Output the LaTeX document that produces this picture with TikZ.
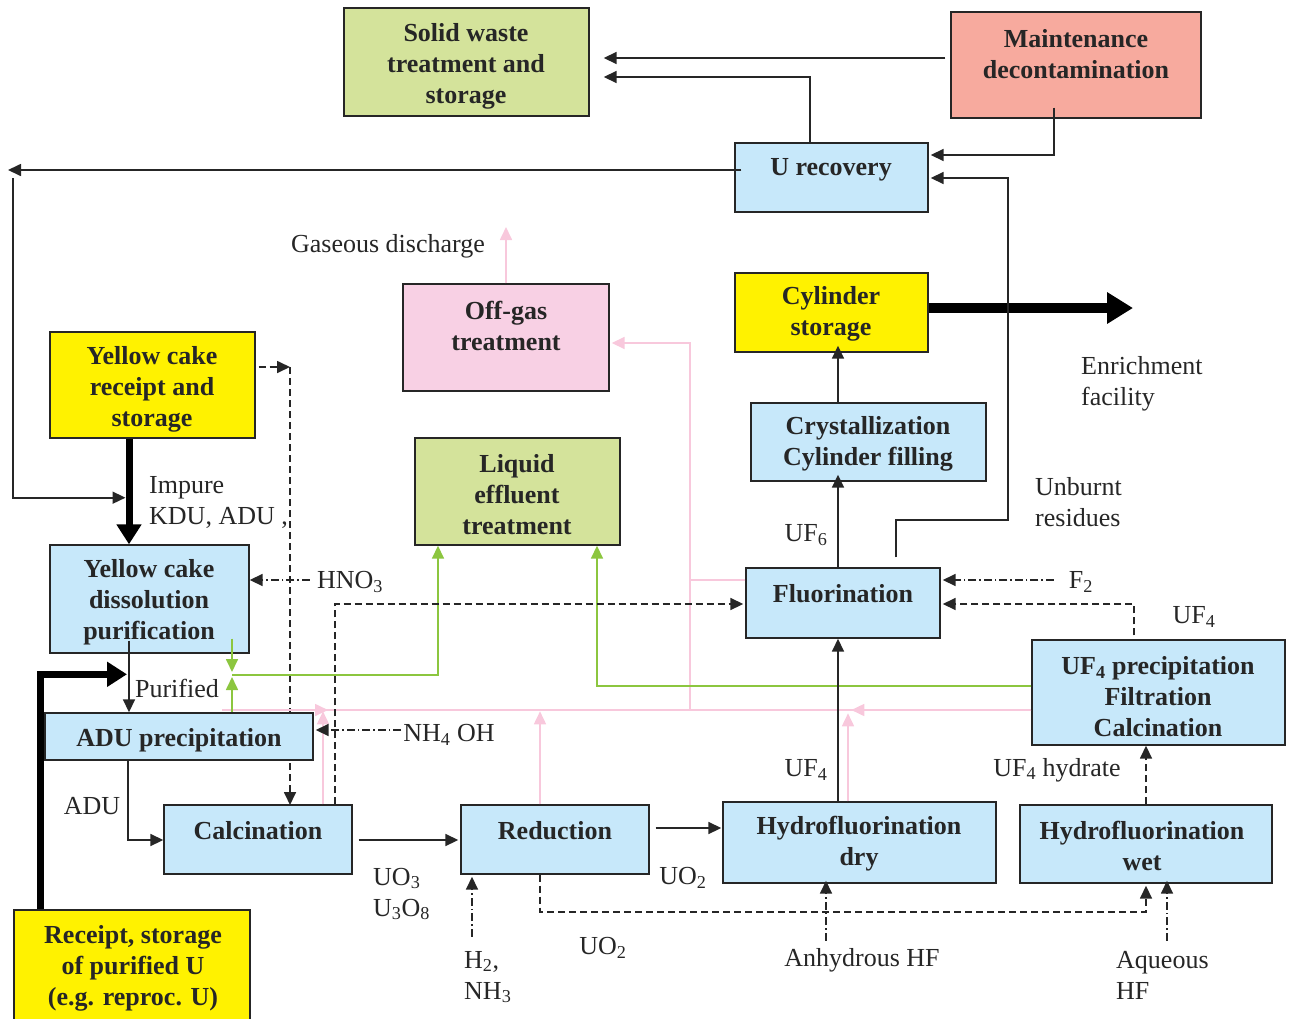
\documentclass[tikz,border=0pt]{standalone}
\usepackage{fontspec}
\setmainfont{Liberation Serif}
\usetikzlibrary{arrows.meta,calc}
\definecolor{cblue}{RGB}{199,232,250}
\definecolor{cyel}{RGB}{255,242,0}
\definecolor{cgreen}{RGB}{212,227,155}
\definecolor{csalmon}{RGB}{247,170,158}
\definecolor{cpink}{RGB}{248,208,228}
\definecolor{lpink}{RGB}{248,200,220}
\definecolor{lgreen}{RGB}{140,198,63}
\definecolor{cline}{RGB}{38,38,38}
\begin{document}
\begin{tikzpicture}[x=1pt,y=-1pt,
  box/.style={draw=cline, line width=1.4pt, inner sep=0pt, minimum width=#1},
  btxt/.style={font=\bfseries\fontsize{26}{31}\selectfont, align=center, text=cline, inner sep=0pt},
  lbl/.style={font=\fontsize{26}{31}\selectfont, text=cline, inner sep=1pt},
  arr/.style={draw=cline, line width=1.7pt, -{Triangle[length=13pt,width=12pt]}},
  arrd/.style={arr, dash pattern=on 7pt off 4pt},
  arrdd/.style={arr, dash pattern=on 8pt off 3pt on 1.5pt off 3pt},
  thickarr/.style={draw=black, line width=7pt, -{Triangle[length=20pt,width=24pt]}},
  pk/.style={draw=lpink, line width=1.7pt},
  pkarr/.style={pk, -{Triangle[length=13pt,width=12pt,fill=lpink]}},
  gr/.style={draw=lgreen, line width=1.7pt},
  grarr/.style={gr, -{Triangle[length=13pt,width=12pt,fill=lgreen]}}
]
\useasboundingbox (0,0) rectangle (1293,1018);

% coordinates used by connectors
\coordinate (c290) at (290,367);
\coordinate (lefttip) at (8,170);
\coordinate (leftdown) at (13,178);
\coordinate (urbend) at (1008,520);
\coordinate (enrtip) at (1133,308);
\coordinate (gj) at (232,675);
\coordinate (gasend) at (506,227);
\coordinate (pkcorner) at (690,580);
\coordinate (pkleft) at (222,710);

% lines behind the boxes
\draw[arrd] (c290) -- (290,805);

% boxes
\node[box=245pt, minimum height=108pt, fill=cgreen] (solid) at (466.5,62) {};
\node[box=250pt, minimum height=106pt, fill=csalmon] (maint) at (1076,65) {};
\node[box=193pt, minimum height=69pt, fill=cblue] (urec) at (831.5,177.5) {};
\node[box=206pt, minimum height=107pt, fill=cpink] (offgas) at (506,337.5) {};
\node[box=193pt, minimum height=79pt, fill=cyel] (cylst) at (831.5,312.5) {};
\node[box=205pt, minimum height=106pt, fill=cyel] (ycr) at (152.5,385) {};
\node[box=205pt, minimum height=107pt, fill=cgreen] (liq) at (517.5,491.5) {};
\node[box=235pt, minimum height=78pt, fill=cblue] (cryst) at (868.5,442) {};
\node[box=199pt, minimum height=108pt, fill=cblue] (diss) at (149.5,599) {};
\node[box=194pt, minimum height=70pt, fill=cblue] (fluor) at (843,603) {};
\node[box=253pt, minimum height=105pt, fill=cblue] (uf4p) at (1158.5,692.5) {};
\node[box=268pt, minimum height=47pt, fill=cblue] (adu) at (179,736.5) {};
\node[box=188pt, minimum height=69pt, fill=cblue] (calc) at (258,839.5) {};
\node[box=188pt, minimum height=69pt, fill=cblue] (red) at (555,839.5) {};
\node[box=273pt, minimum height=81pt, fill=cblue] (hdry) at (859.5,842.5) {};
\node[box=252pt, minimum height=78pt, fill=cblue] (hwet) at (1146,844) {};
\node[box=236pt, minimum height=114pt, fill=cyel] (rpu) at (132,967) {};

% box texts
\node[btxt] (solidt) at (466,66) {Solid waste\\treatment and\\storage};
\node[btxt] (maintt) at (1076,54) {Maintenance\\decontamination};
\node[btxt] (urect) at (831,170) {U recovery};
\node[btxt] (offgast) at (506,326) {Off-gas\\treatment};
\node[btxt] (cylstt) at (831,314) {Cylinder\\storage};
\node[btxt] (ycrt) at (152,389) {Yellow cake\\receipt and\\storage};
\node[btxt] (liqt) at (517,495) {Liquid\\effluent\\treatment};
\node[btxt] (crystt) at (868,444) {Crystallization\\Cylinder filling};
\node[btxt] (disst) at (149,602) {Yellow cake\\dissolution\\purification};
\node[btxt] (fluort) at (843,594) {Fluorination};
\node[btxt] (uf4pt) at (1158,697) {UF\textsubscript{4} precipitation\\Filtration\\Calcination};
\node[btxt] (adut) at (179,740) {ADU precipitation};
\node[btxt] (calct) at (258,831) {Calcination};
\node[btxt] (redt) at (555,831) {Reduction};
\node[btxt] (hdryt) at (859,844) {Hydrofluorination\\dry};
\node[btxt] (hwett) at (1142,846) {Hydrofluorination\\wet};
\node[btxt] (rput) at (133,968) {Receipt, storage\\of purified U\\(e.g. reproc. U)};

% labels
\node[lbl] (gas) at (388,246) {Gaseous discharge};
\node[lbl, align=left, anchor=west] (impure) at (148,502) {Impure\\KDU, ADU ,};
\node[lbl] (hno3) at (350,582) {HNO\textsubscript{3}};
\node[lbl] (purif) at (177,688) {Purified};
\node[lbl] (nh4) at (449,735) {NH\textsubscript{4} OH};
\node[lbl] (adul) at (92,806) {ADU};
\node[lbl, align=left, anchor=west] (uo3) at (372,894) {UO\textsubscript{3}\\U\textsubscript{3}O\textsubscript{8}};
\node[lbl, align=left, anchor=west] (h2) at (463,977) {H\textsubscript{2},\\NH\textsubscript{3}};
\node[lbl] (uo2a) at (683,878) {UO\textsubscript{2}};
\node[lbl] (uo2b) at (603,948) {UO\textsubscript{2}};
\node[lbl] (ahf) at (862,960) {Anhydrous HF};
\node[lbl, align=left, anchor=west] (aqhf) at (1115,975) {Aqueous\\HF};
\node[lbl] (uf4h) at (1057,770) {UF\textsubscript{4} hydrate};
\node[lbl] (uf4a) at (806,770) {UF\textsubscript{4}};
\node[lbl] (uf6) at (806,535) {UF\textsubscript{6}};
\node[lbl, align=left, anchor=west] (unb) at (1034,502) {Unburnt\\residues};
\node[lbl, align=left, anchor=west] (enr) at (1080,384) {Enrichment\\facility};
\node[lbl] (f2) at (1081,582) {F\textsubscript{2}};
\node[lbl] (uf4b) at (1194,617) {UF\textsubscript{4}};

% pink off-gas lines
\draw[pk] ($(fluor.west)+(0,-23)$) -- (pkcorner) -- (pkcorner |- pkleft);
\draw[pkarr] (pkcorner) |- ($(offgas.east)+(2,5.5)$);
\draw[pk] ($(uf4p.west)+(0,17.5)$) -- (pkleft);
\draw[pkarr] (pkleft) -- ++(106,0);
\draw[pkarr] ($(calc.north)+(65,0)$) -- ++(0,-93);
\draw[pkarr] ($(red.north)+(-15,0)$) -- ++(0,-93);
\draw[pkarr] ($(hdry.north)+(-11.5,0)$) -- ++(0,-88);
\draw[pkarr] ($(uf4p.west)+(0,17.5)$) -- ($(uf4p.west)+(-180,17.5)$);
\draw[pkarr] (offgas.north) -- (gasend);

% green liquid effluent lines
\draw[grarr] ($(diss.south)+(82.5,-15)$) -- ($(gj)+(0,-3)$);
\draw[grarr] ($(adu.north)+(53,0)$) -- ($(gj)+(0,2)$);
\draw[grarr] (gj) -| ($(liq.south)+(-79.5,0)$);
\draw[grarr] ($(uf4p.west)+(0,-6.5)$) -| ($(liq.south)+(79.5,0)$);

% black connectors
\draw[arr] ($(maint.west)+(-5,-7)$) -- ($(solid.east)+(14,-4)$);
\draw[arr] ($(urec.north)+(-21.5,0)$) |- ($(solid.east)+(14,15)$);
\draw[arr] ($(maint.south)+(-22,-11)$) |- ($(urec.east)+(2,-22.5)$);
\draw[arr] ($(urec.west)+(7,-7.5)$) -- (lefttip);
\draw[arr] (leftdown) |- ($(ycr.south)+(-27,59)$);
\draw[thickarr] ($(ycr.south)+(-23.5,0)$) -- ($(diss.north)+(-20.5,0)$);
\draw[arrd] ($(ycr.east)+(3,-18)$) -- (c290);
\draw[arrdd] ($(hno3.west)+(-6,-2)$) -- ($(diss.east)+(0,-19)$);
\draw[arr] ($(diss.south)+(-20.5,-13)$) -- ($(adu.north)+(-50,0)$);
\draw[thickarr] ($(rpu.north)+(-92,0)$) |- ($(adu.north)+(-52,-38)$);
\draw[arr] ($(adu.south)+(-51,0)$) |- ($(calc.west)+(0,0.5)$);
\draw[arrdd] ($(nh4.west)+(-1,-5)$) -- ($(adu.east)+(2,-6.5)$);
\draw[arr] ($(calc.east)+(6,0.5)$) -- ($(red.west)+(-2,0.5)$);
\draw[arrd] ($(calc.north)+(77,0)$) |- ($(fluor.west)+(-2,1)$);
\draw[arrdd] ($(red.south)+(-83,62)$) -- ($(red.south)+(-83,2)$);
\draw[arr] ($(red.east)+(6,-11.5)$) -- ($(hdry.west)+(-1,-14.5)$);
\draw[arrd] ($(red.south)+(-15,0)$) -- ++(0,37) -| ($(hwet.south)+(0,2)$);
\draw[arrdd] ($(hdry.south)+(-33.5,57)$) -- ($(hdry.south)+(-33.5,-3)$);
\draw[arrdd] ($(hwet.south)+(21,57)$) -- ($(hwet.south)+(21,-3)$);
\draw[arrd] (hwet.north) -- ($(uf4p.south)+(-12.5,0)$);
\draw[arr] ($(hdry.north)+(-21.5,0)$) -- ($(fluor.south)+(-5,0)$);
\draw[arr] ($(fluor.north)+(-5,0)$) -- ($(cryst.south)+(-30.5,-7)$);
\draw[arr] ($(cryst.north)+(-30.5,0)$) -- ($(cylst.south)+(6.5,-7)$);
\draw[thickarr, line width=10pt, -{Triangle[length=26pt,width=30pt]}] ($(cylst.east)+(0,-4.5)$) -- (enrtip);
\draw[arr] ($(fluor.north)+(53,-10)$) |- (urbend) |- ($(urec.east)+(2,0.5)$);
\draw[arrdd] ($(f2.west)+(-14,-2)$) -- ($(fluor.east)+(2,-23)$);
\draw[arrd] ($(uf4p.north)+(-24.5,-4)$) |- ($(fluor.east)+(2,1)$);
\end{tikzpicture}
\end{document}
